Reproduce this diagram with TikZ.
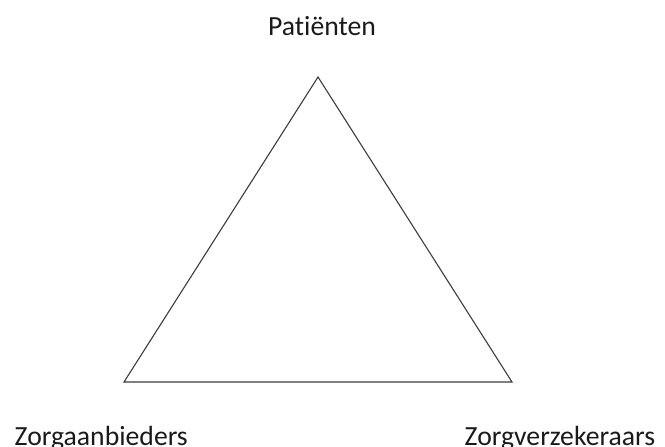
\documentclass[tikz,border=0pt]{standalone}
\usepackage{fontspec}
\setmainfont{Carlito}[Ligatures={NoCommon,NoRare,NoContextual}]
\usetikzlibrary{positioning}
\definecolor{edgegray}{HTML}{3C3C3C}
\definecolor{labelink}{HTML}{1A1A1A}
\tikzset{x=1pt, y=-1pt,
    party/.style={
        inner sep=0pt,
        text=labelink,
        font=\fontsize{27.7}{30}\selectfont},
    side/.style={
        draw=edgegray,
        line width=1.1pt,
        line join=miter}}

\begin{document}
\begin{tikzpicture}
        \useasboundingbox (0,0) rectangle (665,447);
        \coordinate (top) at (318,77);
        \coordinate (left) at (124,382);
        \coordinate (right) at (512,382);

        \node[party, anchor=base] (pat) at (322,35.5) {Patiënten};
        \node[party, anchor=base west] (zab) at (14.5,445) {Zorgaanbieders};
        \node[party, anchor=base west] (zvz) at (464.5,445) {Zorgverzekeraars};

        \draw[side] (top) -- (left) -- (right) -- cycle;
    \end{tikzpicture}
\end{document}
